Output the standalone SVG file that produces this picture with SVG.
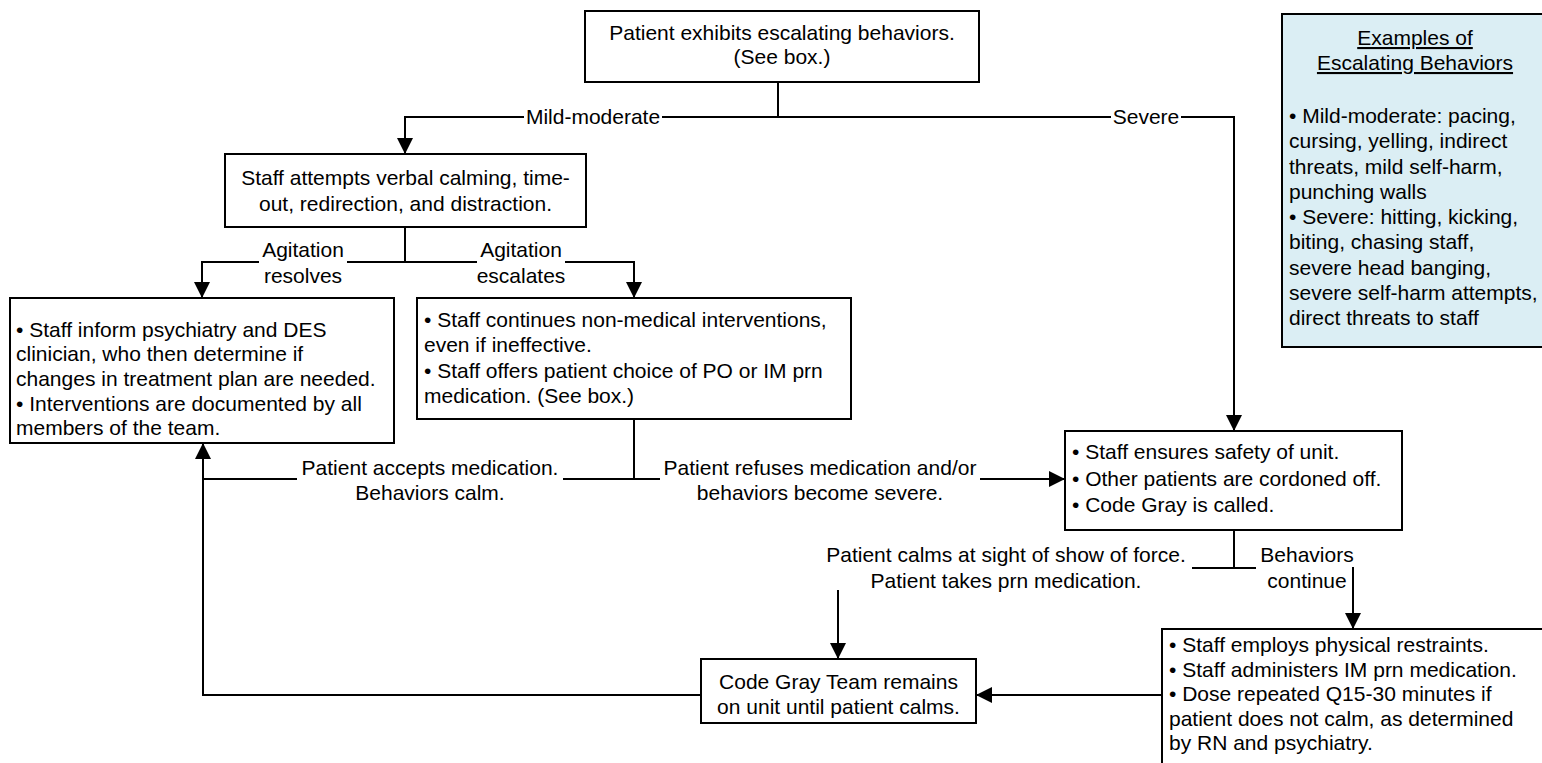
<svg xmlns="http://www.w3.org/2000/svg" width="1542" height="763" viewBox="0 0 1542 763">
<style>
text{font-family:"Liberation Sans",Arial,sans-serif;font-size:21px;fill:#000}
.box{fill:#fff;stroke:#000;stroke-width:2}
.ex{fill:#DBEEF4;stroke:#000;stroke-width:2}
.ln{fill:none;stroke:#000;stroke-width:2}
.arr{marker-end:url(#ah)}
.bg{fill:#fff}
.c{text-anchor:middle}
</style>
<defs>
<marker id="ah" markerUnits="userSpaceOnUse" markerWidth="16" markerHeight="16" refX="16" refY="8" orient="auto"><path d="M0,0L16,8L0,16z" fill="#000"/></marker>
</defs>
<rect width="1542" height="763" fill="#fff"/>
<g id="connectors">
<path class="ln" d="M778,82V117"/>
<path class="ln arr" d="M778,117H405V154"/>
<path class="ln arr" d="M778,117H1234V431"/>
<path class="ln" d="M405,227V262"/>
<path class="ln arr" d="M405,262H202V298"/>
<path class="ln arr" d="M405,262H634V298"/>
<path class="ln" d="M634,419V479H203"/>
<path class="ln arr" d="M634,479H1065"/>
<path class="ln arr" d="M701,695H203V443"/>
<path class="ln" d="M1234,530V568"/>
<path class="ln arr" d="M1234,568H838V659"/>
<path class="ln arr" d="M1234,568H1353V629"/>
<path class="ln arr" d="M1162,695H976"/>
<g id="labels">
<rect class="bg" x="524" y="106" width="138" height="22"/>
<text class="c" x="593" y="124">Mild-moderate</text>
<rect class="bg" x="1111" y="106" width="70" height="22"/>
<text class="c" x="1146" y="124">Severe</text>
<rect class="bg" x="259" y="240" width="88" height="26"/>
<text class="c" x="303" y="257">Agitation<tspan x="303" y="283">resolves</tspan></text>
<rect class="bg" x="477" y="240" width="88" height="26"/>
<text class="c" x="521" y="257">Agitation<tspan x="521" y="283">escalates</tspan></text>
<rect class="bg" x="297" y="458" width="266" height="24"/>
<text class="c" x="430" y="475">Patient accepts medication.<tspan x="430" y="500">Behaviors calm.</tspan></text>
<rect class="bg" x="660" y="458" width="320" height="24"/>
<text class="c" x="820" y="475">Patient refuses medication and/or<tspan x="820" y="500">behaviors become severe.</tspan></text>
<rect class="bg" x="822" y="543" width="370" height="47"/>
<text class="c" x="1006" y="562">Patient calms at sight of show of force.<tspan x="1006" y="588">Patient takes prn medication.</tspan></text>
<rect class="bg" x="1256" y="545" width="96" height="26"/>
<text class="c" x="1307" y="562">Behaviors<tspan x="1307" y="588">continue</tspan></text>
</g>
</g>
<g id="n-top">
<rect class="box" x="585" y="11" width="394" height="71"/>
<text class="c" x="782" y="40">Patient exhibits escalating behaviors.<tspan x="782" y="64">(See box.)</tspan></text>
</g>
<g id="n-verbal">
<rect class="box" x="225" y="154" width="361" height="73"/>
<text class="c" x="405.5" y="185">Staff attempts verbal calming, time-<tspan x="405.5" y="211">out, redirection, and distraction.</tspan></text>
</g>
<g id="n-resolves">
<rect class="box" x="10" y="298" width="384" height="145"/>
<text x="16" y="337">• Staff inform psychiatry and DES<tspan x="16" y="361">clinician, who then determine if</tspan><tspan x="16" y="386">changes in treatment plan are needed.</tspan><tspan x="16" y="411">• Interventions are documented by all</tspan><tspan x="16" y="435">members of the team.</tspan></text>
</g>
<g id="n-escalates">
<rect class="box" x="417" y="298" width="434" height="121"/>
<text x="424" y="327">• Staff continues non-medical interventions,<tspan x="424" y="352">even if ineffective.</tspan><tspan x="424" y="378">• Staff offers patient choice of PO or IM prn</tspan><tspan x="424" y="403">medication. (See box.)</tspan></text>
</g>
<g id="n-safety">
<rect class="box" x="1065" y="431" width="337" height="99"/>
<text x="1072" y="459">• Staff ensures safety of unit.<tspan x="1072" y="486">• Other patients are cordoned off.</tspan><tspan x="1072" y="512">• Code Gray is called.</tspan></text>
</g>
<g id="n-codegray">
<rect class="box" x="701" y="659" width="275" height="64"/>
<text class="c" x="838.5" y="689">Code Gray Team remains<tspan x="838.5" y="714">on unit until patient calms.</tspan></text>
</g>
<g id="n-restraints">
<rect class="box" x="1162" y="629" width="400" height="160"/>
<text x="1169" y="652">• Staff employs physical restraints.<tspan x="1169" y="677">• Staff administers IM prn medication.</tspan><tspan x="1169" y="701">• Dose repeated Q15-30 minutes if</tspan><tspan x="1169" y="726">patient does not calm, as determined</tspan><tspan x="1169" y="750">by RN and psychiatry.</tspan></text>
</g>
<g id="n-examples">
<rect class="ex" x="1282" y="14" width="300" height="333"/>
<text class="c" x="1415" y="45" text-decoration="underline">Examples of</text>
<text class="c" x="1415" y="70" text-decoration="underline">Escalating Behaviors</text>
<text x="1289" y="123">• Mild-moderate: pacing,<tspan x="1289" y="148">cursing, yelling, indirect</tspan><tspan x="1289" y="174">threats, mild self-harm,</tspan><tspan x="1289" y="199">punching walls</tspan><tspan x="1289" y="224">• Severe: hitting, kicking,</tspan><tspan x="1289" y="249">biting, chasing staff,</tspan><tspan x="1289" y="275">severe head banging,</tspan><tspan x="1289" y="300">severe self-harm attempts,</tspan><tspan x="1289" y="325">direct threats to staff</tspan></text>
</g>
</svg>
